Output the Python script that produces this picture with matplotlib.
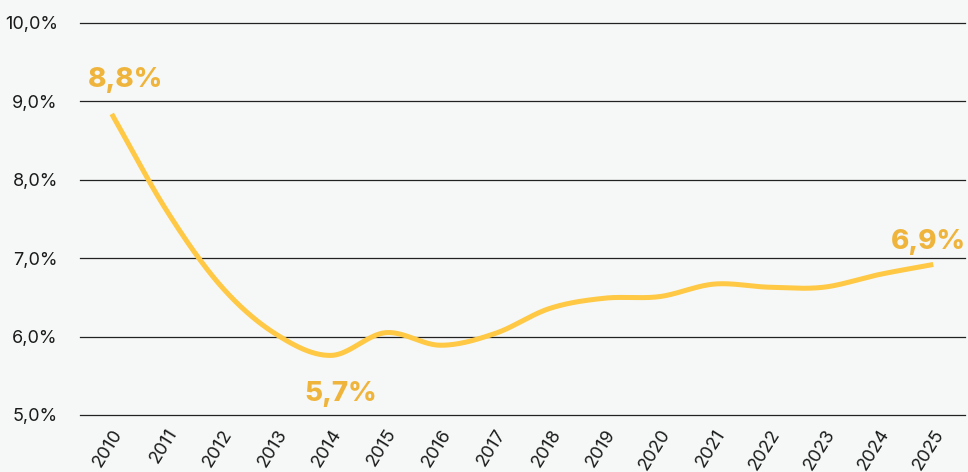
import numpy as np
import matplotlib
matplotlib.use("Agg")
import matplotlib.pyplot as plt

plt.rcParams['font.family'] = ['Inter', 'DejaVu Sans']

# data
years = ["2010", "2011", "2012", "2013", "2014", "2015", "2016", "2017",
         "2018", "2019", "2020", "2021", "2022", "2023", "2024", "2025"]
rate = [8.84, 7.61, 6.64, 6.03, 5.76, 6.05, 5.89, 6.04,
        6.36, 6.49, 6.51, 6.67, 6.63, 6.63, 6.79, 6.92]
labels = ["8,8%", "5,7%", "6,9%"]
label_idx = [0, 4, 15]

bg = "#f5f8f7"
line_color = "#ffc845"
label_color = "#efb43c"


def catmull_rom(x, y, n=40):
    # smooth curve through the points (Catmull-Rom)
    x = np.asarray(x, float)
    y = np.asarray(y, float)
    px = np.concatenate([[2 * x[0] - x[1]], x, [2 * x[-1] - x[-2]]])
    py = np.concatenate([[2 * y[0] - y[1]], y, [2 * y[-1] - y[-2]]])
    xs, ys = [], []
    for i in range(1, len(px) - 2):
        t = np.linspace(0, 1, n, endpoint=(i == len(px) - 3))
        for arr, p in ((xs, px), (ys, py)):
            p0, p1, p2, p3 = p[i - 1], p[i], p[i + 1], p[i + 2]
            arr.append(0.5 * (2 * p1 + (-p0 + p2) * t
                              + (2 * p0 - 5 * p1 + 4 * p2 - p3) * t ** 2
                              + (-p0 + 3 * p1 - 3 * p2 + p3) * t ** 3))
    return np.concatenate(xs), np.concatenate(ys)


x = np.arange(len(years))
xs, ys = catmull_rom(x, rate)

fig = plt.figure(figsize=(9.68, 4.72), dpi=100)
fig.patch.set_facecolor(bg)
ax = fig.add_axes([80 / 968, 1 - 415 / 472, 885 / 968, 392 / 472])
ax.set_facecolor(bg)

ax.plot(xs, ys, color=line_color, lw=3.6, solid_capstyle="butt", zorder=3)

for i, lab in zip(label_idx, labels):
    if i == 0:
        ax.text(x[i] + 0.25, rate[i] + 0.27, lab, ha="center", va="bottom",
                fontsize=20, fontweight="heavy", color=label_color)
    elif i == 4:
        ax.text(x[i] + 0.18, rate[i] - 0.33, lab, ha="center", va="top",
                fontsize=20, fontweight="heavy", color=label_color)
    else:
        ax.text(x[i] - 0.08, rate[i] + 0.12, lab, ha="center", va="bottom",
                fontsize=20, fontweight="heavy", color=label_color)

ax.set_ylim(5, 10)
ax.set_xlim(-0.58, len(years) - 1 + 0.58)
ticks = np.arange(5, 10.01, 1)
ax.set_yticks(ticks)
ax.set_yticklabels([f"{v:.1f}%".replace(".", ",") for v in ticks])
ax.set_xticks(x)
ax.set_xticklabels(years, rotation=58, ha="right", rotation_mode="anchor")
for v in ticks:
    ax.axhline(v, color="#222222", lw=0.9, clip_on=False, zorder=1)
ax.tick_params(length=0, labelsize=13, colors="#1a1a1a")
ax.tick_params(axis="x", pad=8)
ax.tick_params(axis="y", pad=16)
for s in ax.spines.values():
    s.set_visible(False)

fig.savefig("out.png", dpi=100, facecolor=bg)
